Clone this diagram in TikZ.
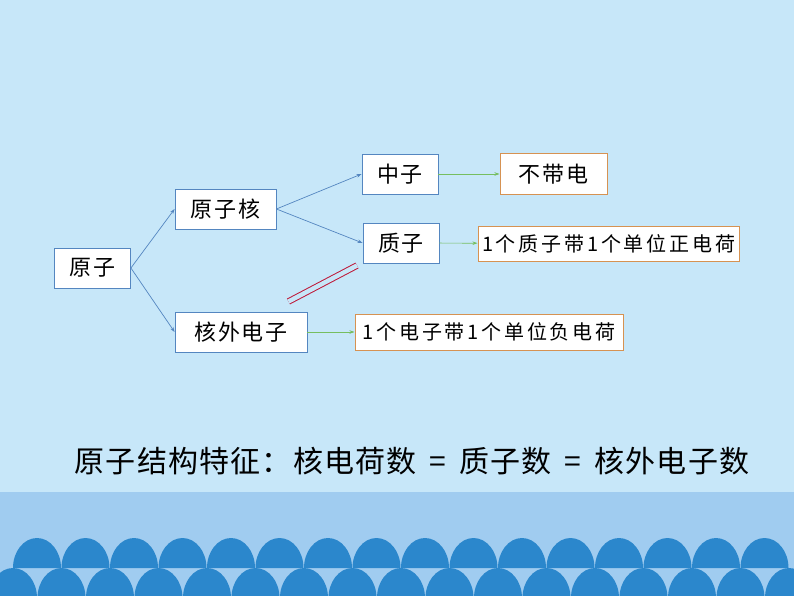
\documentclass[tikz,border=0pt]{standalone}
\usepackage{fontspec}
\newfontfamily\cjk{Noto Sans CJK SC}
\usetikzlibrary{arrows.meta}
\definecolor{skyback}{RGB}{199,231,249}
\definecolor{bandblue}{RGB}{160,204,240}
\definecolor{wavblue}{RGB}{43,135,204}
\definecolor{boxblue}{RGB}{84,134,192}
\definecolor{boxorange}{RGB}{214,146,82}
\definecolor{linkgreen}{RGB}{118,190,96}
\definecolor{markred}{RGB}{190,24,56}
\tikzset{
	partbox/.style={draw=boxblue, fill=white, line width=0.8pt, inner sep=0pt, minimum height=40pt, font={\cjk\fontsize{22}{22}\selectfont\addfontfeatures{LetterSpace=8}}},
	notebox/.style={draw=boxorange, fill=white, line width=1pt, inner sep=0pt, font={\cjk\fontsize{20}{20}\selectfont\addfontfeatures{LetterSpace=14}}},
	tree/.style={draw=boxblue, line width=0.7pt, -{Stealth[length=5pt,width=3.5pt]}},
	link/.style={draw=linkgreen, line width=0.7pt, -{Stealth[length=5pt,width=3.5pt]}}
}

\begin{document}
\begin{tikzpicture}[x=1pt,y=-1pt]
			\useasboundingbox (0,0) rectangle (794,596);
			\fill[skyback] (0,0) rectangle (794,596);
			\fill[bandblue] (0,492) rectangle (794,596);
			\foreach \i in {0,...,15}
				\fill[wavblue] ({13+48.5*\i},568) arc[start angle=180,end angle=360,x radius=24,y radius=30] -- cycle;
			\foreach \i in {0,...,16}
				\fill[wavblue] ({-11+48.5*\i},598) arc[start angle=180,end angle=360,x radius=24,y radius=30] -- cycle;
			\node[partbox, minimum width=76pt] (yuanzi) at (92.5,268) {原子};
			\node[partbox, minimum width=101pt] (hezi) at (225.5,209) {原子核};
			\node[partbox, minimum width=132pt] (hewai) at (241,332) {核外电子};
			\node[partbox, minimum width=76pt] (zhongzi) at (400,174) {中子};
			\node[partbox, minimum width=76pt] (zhizi) at (401,243) {质子};
			\node[notebox, minimum width=107pt, minimum height=40pt, font={\cjk\fontsize{22}{22}\selectfont\addfontfeatures{LetterSpace=8}}] (budai) at (553.5,174) {不带电};
			\node[notebox, minimum width=261pt, minimum height=35pt] (zhengdian) at (608.5,243.5) {1个质子带1个单位正电荷};
			\node[notebox, minimum width=268pt, minimum height=36pt] (fudian) at (489,332) {1个电子带1个单位负电荷};
			\draw[tree] (yuanzi.east) -- (hezi.west);
			\draw[tree] (yuanzi.east) -- (hewai.west);
			\draw[tree] (hezi.east) -- (zhongzi.west);
			\draw[tree] (hezi.east) -- (zhizi.west);
			\draw[link] (zhongzi) -- (budai);
			\draw[link] (zhizi) -- (zhengdian);
			\draw[link] (hewai) -- (fudian);
			\coordinate (mark1) at (288.5,301.5);
			\coordinate (mark2) at (357,265.5);
			\draw[markred, line width=1pt, double=skyback, double distance=4.5pt] (mark1) -- (mark2);
			\node[font={\cjk\fontsize{30}{30}\selectfont\addfontfeatures{LetterSpace=4}}] (tezheng) at (412,461) {原子结构特征：核电荷数\hspace{13pt}=\hspace{13pt}质子数\hspace{13pt}=\hspace{13pt}核外电子数};
		\end{tikzpicture}
\end{document}
